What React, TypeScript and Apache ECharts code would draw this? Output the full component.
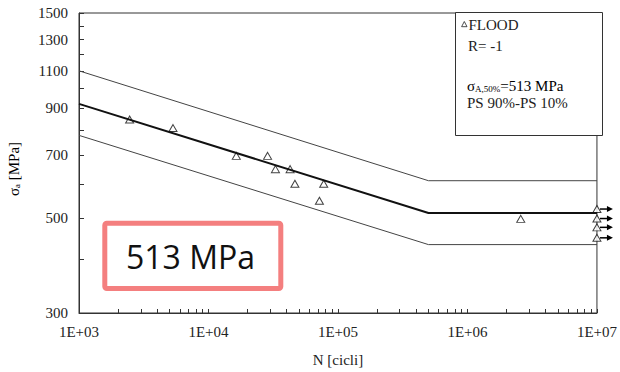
import React, { useEffect, useRef } from "react";
import * as echarts from "echarts";

// Fatigue test results (FLOOD, R = -1): cycles to failure and stress amplitude [MPa]
const testCycles = [2460, 5320, 16400, 28600, 32900, 42700, 46500, 71900, 77600, 2580000];
const testStress = [847, 809, 697, 697, 649, 649, 600, 548, 600, 497];

// Run-outs stopped at 1E+07 cycles
const runoutCycles = [1e7, 1e7, 1e7, 1e7];
const runoutStress = [524, 498, 475, 449];

// S-N curves: knee point and fatigue limit, for 50%, 90% and 10% survival probability
const curveCycles = [1e3, 5e5, 1e7];
const curveP50 = [921, 513, 513];
const curveP90 = [1100, 610, 610];
const curveP10 = [778, 433, 433];

// Axis ticks
const stressLabels = [300, 500, 700, 900, 1100, 1300, 1500];
const stressTicks = [300, 400, 500, 600, 700, 800, 900, 1000, 1100, 1200, 1300, 1400, 1500];
const cycleLabels = [1e3, 1e4, 1e5, 1e6, 1e7];
const cycleSteps = [1, 2, 3, 4, 5, 6, 7, 8, 9];

const SERIF = "Liberation Serif";
const lg = Math.log10;

const pairs = (xs: number[], ys: number[]) => xs.map((x, i) => [lg(x), lg(ys[i])]);

export default function App() {
  const ref = useRef<HTMLDivElement>(null);

  useEffect(() => {
    if (!ref.current) return;
    const chart = echarts.init(ref.current, null, { renderer: "svg" });

    const cycleTicks: number[] = [];
    for (let d = 0; d < cycleLabels.length - 1; d++) {
      for (const m of cycleSteps) cycleTicks.push(lg(cycleLabels[d] * m));
    }
    cycleTicks.push(lg(cycleLabels[cycleLabels.length - 1]));

    const triangleStyle = { color: "#fff", borderColor: "#111", borderWidth: 1 };
    const serifText = { fontFamily: SERIF, fontSize: 15, color: "#222" };

    chart.setOption({
      animation: false,
      backgroundColor: "#fff",
      textStyle: { fontFamily: SERIF },
      grid: {
        left: 79,
        right: 19,
        top: 13,
        bottom: 52,
        show: true,
        borderColor: "#333",
        borderWidth: 1,
        backgroundColor: "transparent",
      },
      xAxis: {
        type: "value",
        min: lg(cycleLabels[0]),
        max: lg(cycleLabels[cycleLabels.length - 1]),
        name: "N [cicli]",
        nameLocation: "middle",
        nameGap: 39,
        nameTextStyle: serifText,
        axisLine: { lineStyle: { color: "#333", width: 1 } },
        axisTick: {
          inside: true,
          length: 4,
          customValues: cycleTicks,
          lineStyle: { color: "#333" },
        },
        axisLabel: {
          ...serifText,
          customValues: cycleLabels.map(lg),
          margin: 11,
          formatter: (v: number) => `1E+${String(Math.round(v)).padStart(2, "0")}`,
        },
        splitLine: { show: false },
      },
      yAxis: {
        type: "value",
        min: lg(stressTicks[0]),
        max: lg(stressTicks[stressTicks.length - 1]),
        axisLine: { show: true, lineStyle: { color: "#333", width: 1 } },
        axisTick: {
          show: true,
          inside: true,
          length: 5,
          customValues: stressTicks.map(lg),
          lineStyle: { color: "#333" },
        },
        axisLabel: {
          ...serifText,
          customValues: stressLabels.map(lg),
          margin: 11,
          formatter: (v: number) => String(Math.round(Math.pow(10, v))),
        },
        splitLine: { show: false },
      },
      series: [
        {
          type: "line",
          data: pairs(curveCycles, curveP90),
          symbol: "none",
          lineStyle: { color: "#444", width: 1 },
        },
        {
          type: "line",
          data: pairs(curveCycles, curveP10),
          symbol: "none",
          lineStyle: { color: "#444", width: 1 },
        },
        {
          type: "line",
          data: pairs(curveCycles, curveP50),
          symbol: "none",
          lineStyle: { color: "#111", width: 2 },
        },
        {
          type: "custom",
          clip: false,
          data: pairs(runoutCycles, runoutStress),
          renderItem: (params: any, api: any) => {
            const p = api.coord([api.value(0), api.value(1)]);
            return {
              type: "group",
              children: [
                {
                  type: "line",
                  shape: { x1: p[0] + 3, y1: p[1], x2: p[0] + 11, y2: p[1] },
                  style: { stroke: "#000", lineWidth: 1.5 },
                },
                {
                  type: "polygon",
                  shape: {
                    points: [
                      [p[0] + 10, p[1] - 3],
                      [p[0] + 16, p[1]],
                      [p[0] + 10, p[1] + 3],
                    ],
                  },
                  style: { fill: "#000" },
                },
              ],
            };
          },
        },
        {
          type: "scatter",
          clip: false,
          data: pairs(testCycles, testStress),
          symbol: "triangle",
          symbolSize: [8, 7],
          itemStyle: triangleStyle,
        },
        {
          type: "scatter",
          clip: false,
          data: pairs(runoutCycles, runoutStress),
          symbol: "triangle",
          symbolSize: [8, 7],
          itemStyle: triangleStyle,
        },
      ],
      graphic: [
        {
          type: "text",
          x: 14,
          y: 169,
          rotation: Math.PI / 2,
          style: {
            text: "{a|σ}{s|a}{a| [MPa]}",
            align: "center",
            verticalAlign: "middle",
            rich: {
              a: { fontFamily: SERIF, fontSize: 15, color: "#222" },
              s: { fontFamily: SERIF, fontSize: 9, color: "#222", verticalAlign: "bottom" },
            },
          },
        },
        {
          type: "rect",
          shape: { x: 455.5, y: 12.5, width: 147, height: 123 },
          style: { fill: "#fff", stroke: "#333", lineWidth: 1 },
          z: 10,
        },
        {
          type: "polygon",
          shape: { points: [[464.3, 21.5], [467, 26.7], [461.6, 26.7]] },
          style: { fill: "#fff", stroke: "#222", lineWidth: 0.8 },
          z: 11,
        },
        {
          type: "text",
          x: 468.5,
          y: 25,
          z: 11,
          style: { text: "FLOOD", fontFamily: SERIF, fontSize: 15, fill: "#222", verticalAlign: "middle" },
        },
        {
          type: "text",
          x: 468,
          y: 46,
          z: 11,
          style: { text: "R= -1", fontFamily: SERIF, fontSize: 15, fill: "#222", verticalAlign: "middle" },
        },
        {
          type: "text",
          x: 467,
          y: 86,
          z: 11,
          style: {
            text: "{a|σ}{s|A,50%}{a|=513 MPa}",
            verticalAlign: "middle",
            rich: {
              a: { fontFamily: SERIF, fontSize: 15, color: "#222" },
              s: { fontFamily: SERIF, fontSize: 9, color: "#222", verticalAlign: "bottom" },
            },
          },
        },
        {
          type: "text",
          x: 467,
          y: 103,
          z: 11,
          style: { text: "PS 90%-PS 10%", fontFamily: SERIF, fontSize: 15, fill: "#222", verticalAlign: "middle" },
        },
        {
          type: "rect",
          shape: { x: 104.8, y: 223.2, width: 176, height: 65.3, r: 2 },
          style: { fill: "#fff", stroke: "#F47F7F", lineWidth: 5 },
          z: 10,
        },
        {
          type: "text",
          x: 190.5,
          y: 256.5,
          z: 11,
          style: {
            text: "513 MPa",
            fontFamily: "Open Sans",
            fontSize: 32,
            fill: "#111",
            align: "center",
            verticalAlign: "middle",
          },
        },
      ],
    });

    return () => chart.dispose();
  }, []);

  return (
    <div
      ref={ref}
      style={{ width: 620, height: 372, position: "absolute", left: 0, top: 0 }}
    />
  );
}
